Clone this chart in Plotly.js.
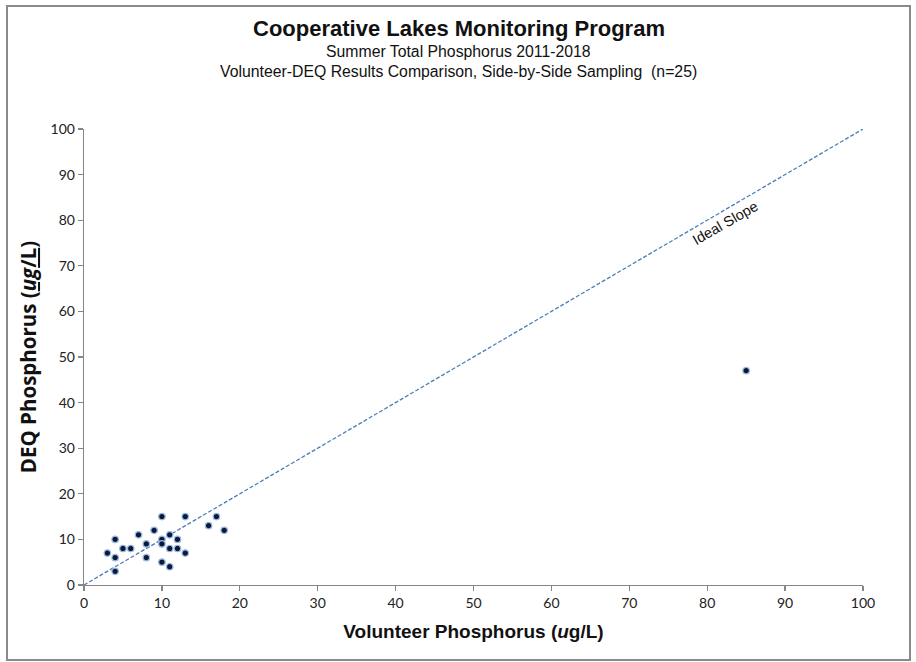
<!DOCTYPE html>
<html>
<head>
<meta charset="utf-8">
<script src="https://cdn.plot.ly/plotly-3.0.1.min.js"></script>
<style>
html,body{margin:0;padding:0;background:#fff;}
#frame{position:absolute;left:6px;top:5px;width:901px;height:652px;border:2px solid #8a8a8a;box-sizing:content-box;}
#chart{position:absolute;left:0;top:0;width:916px;height:662px;}
</style>
</head>
<body>
<div id="frame"></div>
<div id="chart"></div>
<script>
const volunteer = [10, 13, 17, 16, 18, 7, 9, 11, 4, 10, 12, 8, 10, 5, 6, 11, 12, 3, 13, 4, 8, 10, 11, 4, 85];
const deq       = [15, 15, 15, 13, 12, 11, 12, 11, 10, 10, 10, 9, 9, 8, 8, 8, 8, 7, 7, 6, 6, 5, 4, 3, 47];
const idealX = [0, 100];
const idealY = [0, 100];
const axisTicks = [0, 10, 20, 30, 40, 50, 60, 70, 80, 90, 100];

const traces = [
  {
    x: idealX, y: idealY, mode: 'lines', type: 'scatter',
    line: {color: '#4a7ebb', width: 1.3, dash: '4px,2px'},
    hoverinfo: 'skip', showlegend: false
  },
  {
    x: volunteer, y: deq, mode: 'markers', type: 'scatter',
    marker: {size: 6.5, color: '#0b1a3a', line: {color: '#9dbbe2', width: 1.2}},
    showlegend: false
  }
];

const tickFont = {family: 'Lato, "Open Sans", sans-serif', size: 14, color: '#222'};

const layout = {
  width: 916, height: 662,
  paper_bgcolor: 'rgba(0,0,0,0)', plot_bgcolor: 'rgba(0,0,0,0)',
  margin: {l: 84, r: 53, t: 129, b: 77},
  showlegend: false,
  xaxis: {
    range: [0, 100], tickvals: axisTicks, ticktext: axisTicks.map(String),
    showgrid: false, zeroline: false, showline: true, linecolor: '#868686', linewidth: 1.3,
    ticks: 'outside', ticklen: 5, tickcolor: '#868686', tickwidth: 1.3,
    tickfont: tickFont, fixedrange: true,
    title: {text: '<b>Volunteer Phosphorus (<i>u</i>g/L)</b>', font: {family: '"Liberation Sans", Arial, sans-serif', size: 19, color: '#111'}, standoff: 14}
  },
  yaxis: {
    range: [0, 100], tickvals: axisTicks, ticktext: axisTicks.map(String),
    showgrid: false, zeroline: false, showline: true, linecolor: '#868686', linewidth: 1.3,
    ticks: 'outside', ticklen: 5, tickcolor: '#868686', tickwidth: 1.3,
    tickfont: tickFont, fixedrange: true,
    title: {text: '<b>DEQ Phosphorus (<u><i>ug</i>/L</u>)</b>', font: {family: '"Open Sans", Lato, sans-serif', size: 20.5, color: '#111'}, standoff: 8}
  },
  annotations: [
    {xref: 'paper', yref: 'paper', x: 0.5, y: 1, xanchor: 'center', yanchor: 'bottom',
     text: '<b>Cooperative Lakes Monitoring Program</b>', showarrow: false,
     font: {family: '"Liberation Sans", Arial, sans-serif', size: 22, color: '#111'},
     xshift: -15, yshift: 86},
    {xref: 'paper', yref: 'paper', x: 0.5, y: 1, xanchor: 'center', yanchor: 'bottom',
     text: 'Summer Total Phosphorus 2011-2018', showarrow: false,
     font: {family: '"Liberation Sans", Arial, sans-serif', size: 15.8, color: '#111'},
     xshift: -15, yshift: 67},
    {xref: 'paper', yref: 'paper', x: 0.5, y: 1, xanchor: 'center', yanchor: 'bottom',
     text: 'Volunteer-DEQ Results Comparison, Side-by-Side Sampling  (n=25)', showarrow: false,
     font: {family: '"Liberation Sans", Arial, sans-serif', size: 15.8, color: '#111'},
     xshift: -15, yshift: 47},
    {x: 82.3, y: 79.4, xref: 'x', yref: 'y', text: 'Ideal Slope', showarrow: false,
     textangle: -30, font: {family: '"Liberation Sans", Arial, sans-serif', size: 14.5, color: '#111'}}
  ]
};

Plotly.newPlot('chart', traces, layout, {displayModeBar: false, staticPlot: true});
</script>
</body>
</html>
